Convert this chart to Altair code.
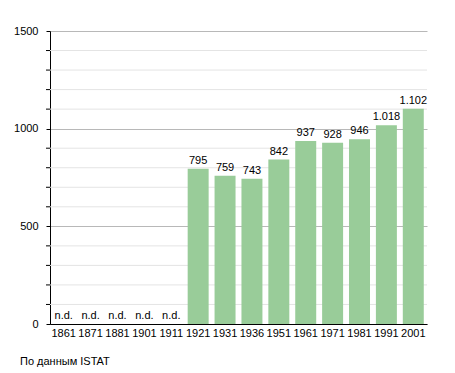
import altair as alt
import pandas as pd

years = ["1861", "1871", "1881", "1901", "1911", "1921", "1931", "1936",
         "1951", "1961", "1971", "1981", "1991", "2001"]
values = [None, None, None, None, None, 795, 759, 743, 842, 937, 928, 946, 1018, 1102]
labels = ["n.d.", "n.d.", "n.d.", "n.d.", "n.d.", "795", "759", "743", "842",
          "937", "928", "946", "1.018", "1.102"]
major_ticks = [0, 500, 1000, 1500]
minor_ticks = [100, 200, 300, 400, 600, 700, 800, 900, 1100, 1200, 1300, 1400]

df = pd.DataFrame({"year": years, "value": values, "label": labels})
df["pos"] = df["value"].fillna(0)
minor_df = pd.DataFrame({"v": minor_ticks})

FONT = "Liberation Sans"
yscale = alt.Scale(domain=[0, 1500], nice=False)

xaxis = alt.Axis(labelAngle=0, ticks=False, grid=False, domainColor="black",
                 labelColor="black", labelFont=FONT, labelFontSize=11,
                 labelPadding=3)
xscale = alt.Scale(paddingInner=0.22, paddingOuter=0.12)

yaxis = alt.Axis(values=major_ticks, grid=True, gridColor="#b8b8b8",
                 labelOverlap=False, format="d",
                 domainColor="black", tickColor="black", tickSize=4,
                 labelColor="black", labelFont=FONT, labelFontSize=11,
                 labelPadding=8)

def Y(field):
    return alt.Y(field, scale=yscale, axis=yaxis, title=None)

def X():
    return alt.X("year:N", sort=years, scale=xscale, axis=xaxis, title=None)

minor_grid = alt.Chart(minor_df).mark_rule(color="#e4e4e4", strokeWidth=1).encode(
    y=Y("v:Q"), x=alt.value(0), x2=alt.value(377))

minor_tick = alt.Chart(minor_df).mark_rule(color="black", strokeWidth=1).encode(
    y=Y("v:Q"), x=alt.value(-4), x2=alt.value(0))

base = alt.Chart(df)

bars = base.transform_filter("datum.value != null").mark_bar(color="#99cc99").encode(
    x=X(), y=Y("pos:Q"))

text = base.mark_text(baseline="bottom", dy=-3, font=FONT, fontSize=11, color="black").encode(
    x=X(), y=Y("pos:Q"), text="label:N")

footer = alt.Chart(pd.DataFrame({"t": ["По данным ISTAT"]})).mark_text(
    align="left", baseline="middle", font=FONT, fontSize=11, color="black").encode(
    x=alt.value(-30), y=alt.value(331), text="t:N")

chart = alt.layer(minor_grid, bars, minor_tick, text, footer).properties(
    width=377, height=293,
    padding={"left": 42, "top": 23, "right": 20, "bottom": 48},
    autosize=alt.AutoSizeParams(type="none"),
).configure_view(stroke=None)

chart.save("out.html", embed_options={"renderer": "svg", "actions": False})
